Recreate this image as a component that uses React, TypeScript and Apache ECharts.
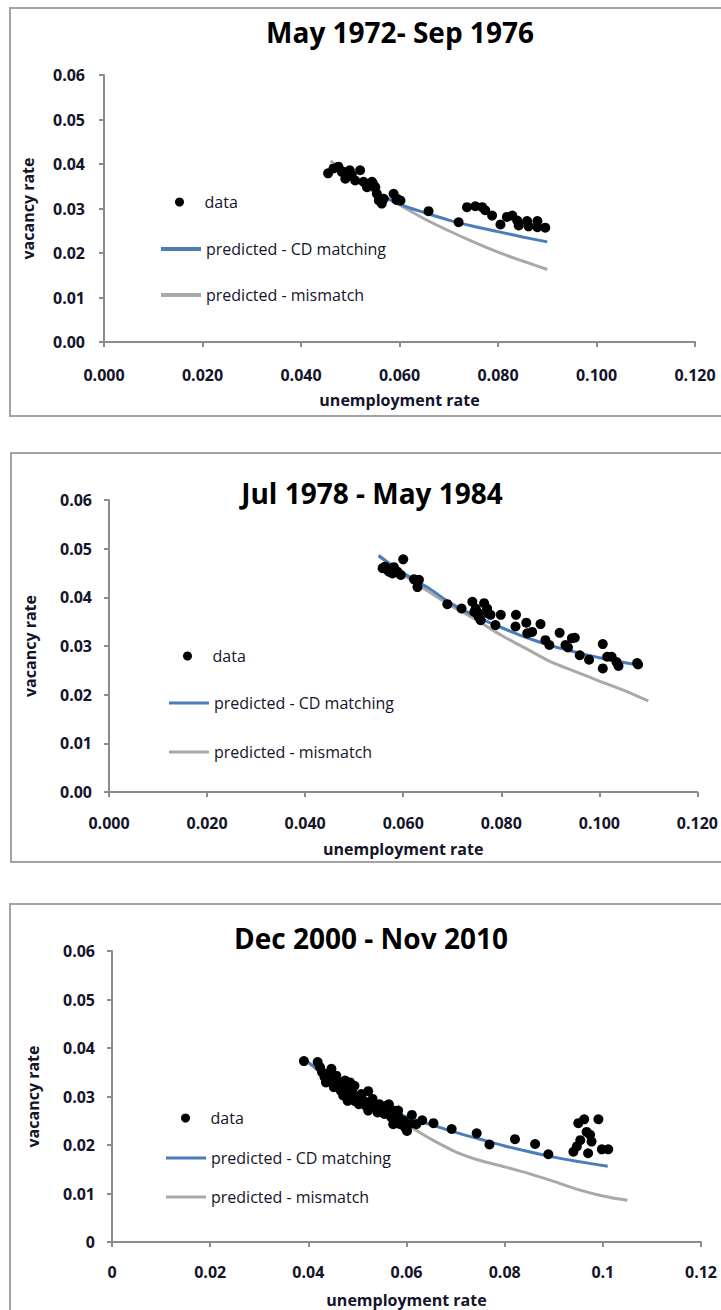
import React, { useEffect, useRef } from "react";
import * as echarts from "echarts";

// ---------- data ----------
const titles = ["May 1972- Sep 1976", "Jul 1978 - May 1984", "Dec 2000 - Nov 2010"];

const p1Data: number[][] = [
  [0.0455, 0.0379], [0.0466, 0.039], [0.0476, 0.0394], [0.0483, 0.0382], [0.049, 0.0367],
  [0.0497, 0.0382], [0.0503, 0.0375], [0.051, 0.0363], [0.052, 0.0386], [0.0527, 0.036],
  [0.0534, 0.0348], [0.0544, 0.036], [0.0551, 0.0348], [0.0554, 0.0333], [0.0558, 0.0318],
  [0.0564, 0.0311], [0.0568, 0.0322], [0.0588, 0.0333], [0.0595, 0.0322], [0.0602, 0.0318],
  [0.0485, 0.0383], [0.0499, 0.0386], [0.0546, 0.0356], [0.0594, 0.0319],
  [0.0659, 0.0294], [0.072, 0.0269], [0.0737, 0.0303], [0.0754, 0.0305], [0.0768, 0.0303],
  [0.0774, 0.0296], [0.0788, 0.0284], [0.0805, 0.0264], [0.0818, 0.0281], [0.0829, 0.0284],
  [0.0839, 0.0273], [0.0842, 0.0262], [0.0859, 0.0272], [0.0862, 0.026], [0.088, 0.0272],
  [0.088, 0.0258], [0.0896, 0.0257]
];
const p1CD: number[][] = [
  [0.046, 0.0398], [0.05, 0.037], [0.055, 0.0337], [0.06, 0.031], [0.065, 0.0291],
  [0.07, 0.0274], [0.075, 0.026], [0.08, 0.0248], [0.085, 0.0236], [0.09, 0.0225]
];
const p1Mis: number[][] = [
  [0.046, 0.0407], [0.05, 0.0375], [0.055, 0.034], [0.06, 0.0308], [0.065, 0.0277],
  [0.07, 0.025], [0.075, 0.0225], [0.08, 0.0202], [0.085, 0.0182], [0.09, 0.0163]
];

const p2Data: number[][] = [
  [0.0558, 0.046], [0.0568, 0.0456], [0.0578, 0.0449], [0.0588, 0.0453], [0.0595, 0.0446],
  [0.06, 0.0478], [0.0581, 0.0462], [0.0563, 0.0463], [0.0572, 0.0452], [0.0622, 0.0437],
  [0.0632, 0.0436], [0.0629, 0.0421], [0.069, 0.0386], [0.0719, 0.0377], [0.0741, 0.0391],
  [0.0748, 0.0377], [0.0754, 0.0367], [0.0758, 0.0353], [0.0765, 0.0388], [0.0771, 0.0377],
  [0.0778, 0.0364], [0.0788, 0.0343], [0.0799, 0.0364], [0.083, 0.0364], [0.0829, 0.034],
  [0.0851, 0.0348], [0.0853, 0.0326], [0.0863, 0.0329], [0.088, 0.0345], [0.089, 0.0312],
  [0.0898, 0.0302], [0.0919, 0.0327], [0.0931, 0.0302], [0.0944, 0.0316], [0.095, 0.0317],
  [0.0936, 0.0297], [0.096, 0.0281], [0.0979, 0.0272], [0.1007, 0.0304], [0.1007, 0.0254],
  [0.1016, 0.0278], [0.1025, 0.0278], [0.1035, 0.0267], [0.1039, 0.0259], [0.1077, 0.0265],
  [0.1079, 0.0262], [0.0745, 0.037], [0.0773, 0.0367], [0.0754, 0.036]
];
const p2CD: number[][] = [
  [0.055, 0.0485], [0.06, 0.045], [0.065, 0.042], [0.07, 0.0386], [0.075, 0.036],
  [0.08, 0.0338], [0.085, 0.0318], [0.09, 0.0301], [0.095, 0.0288], [0.1, 0.0276],
  [0.105, 0.0266], [0.108, 0.0261]
];
const p2Mis: number[][] = [
  [0.055, 0.0487], [0.06, 0.0447], [0.065, 0.0413], [0.07, 0.0381], [0.075, 0.0353],
  [0.08, 0.0322], [0.085, 0.0295], [0.09, 0.0268], [0.095, 0.0248], [0.1, 0.0228],
  [0.105, 0.0209], [0.11, 0.0187]
];

const p3Data: number[][] = [
  [0.0391, 0.0373], [0.0419, 0.0371], [0.0424, 0.036], [0.0428, 0.035], [0.0433, 0.034],
  [0.0436, 0.0329], [0.0442, 0.0347], [0.0447, 0.0333], [0.0452, 0.0319], [0.0457, 0.0343],
  [0.0461, 0.0329], [0.0466, 0.0312], [0.0471, 0.0302], [0.0475, 0.0319], [0.048, 0.0291],
  [0.0485, 0.0329], [0.0489, 0.0312], [0.0494, 0.0322], [0.0499, 0.0298], [0.0503, 0.0284],
  [0.0508, 0.0305], [0.0522, 0.0311], [0.0513, 0.0291], [0.0527, 0.0284], [0.0531, 0.0295],
  [0.0536, 0.0278], [0.0541, 0.0267], [0.0545, 0.0284], [0.055, 0.0274], [0.0555, 0.0264],
  [0.0559, 0.0281], [0.0564, 0.0267], [0.0569, 0.0257], [0.0573, 0.0271], [0.0578, 0.025],
  [0.0583, 0.026], [0.0587, 0.0243], [0.0592, 0.025], [0.0597, 0.0236], [0.0601, 0.0229],
  [0.0606, 0.0243], [0.0611, 0.0262], [0.062, 0.0243], [0.0632, 0.0251], [0.0447, 0.0357],
  [0.0475, 0.0333], [0.0485, 0.0305], [0.0494, 0.0291], [0.0517, 0.0281], [0.0522, 0.0271],
  [0.0564, 0.0284], [0.0573, 0.0243], [0.0595, 0.025], [0.0583, 0.0271],
  [0.0655, 0.0245], [0.0692, 0.0233], [0.0743, 0.0224], [0.0769, 0.0201], [0.0821, 0.0212],
  [0.0862, 0.0202], [0.0889, 0.0181], [0.094, 0.0186], [0.0947, 0.0197], [0.0954, 0.021],
  [0.095, 0.0245], [0.0962, 0.0253], [0.0967, 0.0227], [0.0977, 0.0207], [0.097, 0.0183],
  [0.0991, 0.0253], [0.0998, 0.0191], [0.1011, 0.0191], [0.0974, 0.0221]
];
const p3CD: number[][] = [
  [0.039, 0.0378], [0.045, 0.0333], [0.05, 0.0302], [0.055, 0.0279], [0.06, 0.0258],
  [0.065, 0.0242], [0.07, 0.0226], [0.075, 0.0212], [0.08, 0.0198], [0.085, 0.0186],
  [0.09, 0.0175], [0.095, 0.0166], [0.101, 0.0156]
];
const p3Mis: number[][] = [
  [0.039, 0.0378], [0.045, 0.033], [0.05, 0.0298], [0.055, 0.027], [0.06, 0.0242],
  [0.065, 0.0212], [0.07, 0.0186], [0.075, 0.0168], [0.08, 0.0155], [0.085, 0.0141],
  [0.09, 0.0125], [0.095, 0.0108], [0.1, 0.0095], [0.105, 0.0086]
];

const panelData = [p1Data, p2Data, p3Data];
const panelCD = [p1CD, p2CD, p3CD];
const panelMis = [p1Mis, p2Mis, p3Mis];

const NAME_DATA = "data";
const NAME_CD = "predicted - CD matching";
const NAME_MIS = "predicted - mismatch";

// ---------- layout ----------
const FONT = '"Open Sans", "Liberation Sans", sans-serif';
const AXIS_COLOR = "#8c8c8c";
const TEXT_COLOR = "#14142a";
const BLUE = "#4a7ebb";
const GREY = "#a9a9a9";

const grids = [
  { left: 104, top: 75, width: 591, height: 267 },
  { left: 109, top: 500, width: 590, height: 292 },
  { left: 112, top: 951, width: 589, height: 291 },
];
const titlePos = [
  { x: 400, y: 32 },
  { x: 372, y: 493 },
  { x: 371, y: 938 },
];
const legendPos = [
  { left: 161, dotLeft: 175, rows: [202, 249, 295], lw: 4 },
  { left: 169, dotLeft: 183, rows: [656, 703, 752], lw: 3 },
  { left: 166, dotLeft: 181, rows: [1118, 1158, 1197], lw: 3 },
];
const borders = [
  { x: 10, y: 8, w: 730, h: 408 },
  { x: 11, y: 453, w: 730, h: 409 },
  { x: 10, y: 904, w: 730, h: 430 },
];
const yLabelMargin = [19, 17, 17];
const xLabelMargin = [25, 23, 22];
const xNameGap = [50, 49, 50];
const yNameGap = [68, 71, 71];

export default function App() {
  const ref = useRef<HTMLDivElement>(null);
  useEffect(() => {
    document.body.style.margin = "0";
    if (!ref.current) return;
    const chart = echarts.init(ref.current, undefined, { renderer: "svg" });

    const xAxis: any[] = [];
    const yAxis: any[] = [];
    const series: any[] = [];
    const legend: any[] = [];
    const graphic: any[] = [];

    const labelStyle = {
      fontFamily: FONT,
      fontSize: 16,
      fontWeight: "bold",
      color: TEXT_COLOR,
    };

    for (let i = 0; i < 3; i++) {
      const third = i === 2;
      xAxis.push({
        gridIndex: i,
        type: "value",
        min: 0,
        max: 0.12,
        interval: 0.02,
        name: "unemployment rate",
        nameLocation: "middle",
        nameGap: xNameGap[i],
        nameTextStyle: { ...labelStyle },
        axisLine: { show: true, lineStyle: { color: AXIS_COLOR, width: 2 } },
        axisTick: { show: true, inside: false, length: 5, lineStyle: { color: AXIS_COLOR, width: 2 } },
        splitLine: { show: false },
        axisLabel: {
          ...labelStyle,
          margin: xLabelMargin[i],
          formatter: (v: number) => (third ? String(+v.toFixed(2)) : v.toFixed(3)),
        },
      });
      yAxis.push({
        gridIndex: i,
        type: "value",
        min: 0,
        max: 0.06,
        interval: 0.01,
        name: "vacancy rate",
        nameLocation: "middle",
        nameGap: yNameGap[i],
        nameTextStyle: { ...labelStyle },
        axisLine: { show: true, lineStyle: { color: AXIS_COLOR, width: 2 } },
        axisTick: { show: true, inside: false, length: 5, lineStyle: { color: AXIS_COLOR, width: 2 } },
        splitLine: { show: false },
        axisLabel: {
          ...labelStyle,
          margin: yLabelMargin[i],
          formatter: (v: number) => (third ? String(+v.toFixed(2)) : v.toFixed(2)),
        },
      });
      series.push({
        name: NAME_MIS,
        type: "line",
        xAxisIndex: i,
        yAxisIndex: i,
        data: panelMis[i],
        symbol: "none",
        smooth: 0.3,
        lineStyle: { color: GREY, width: 3 },
        itemStyle: { color: GREY },
        z: 2,
      });
      series.push({
        name: NAME_CD,
        type: "line",
        xAxisIndex: i,
        yAxisIndex: i,
        data: panelCD[i],
        symbol: "none",
        smooth: 0.3,
        lineStyle: { color: BLUE, width: 3 },
        itemStyle: { color: BLUE },
        z: 3,
      });
      series.push({
        name: NAME_DATA,
        type: "scatter",
        xAxisIndex: i,
        yAxisIndex: i,
        data: panelData[i],
        symbol: "circle",
        symbolSize: 10,
        itemStyle: { color: "#000", opacity: 1 },
        z: 4,
      });

      const lp = legendPos[i];
      const rows = [
        { name: NAME_DATA, icon: "circle", h: 9, left: lp.dotLeft },
        { name: NAME_CD, icon: "rect", h: lp.lw, left: lp.left },
        { name: NAME_MIS, icon: "rect", h: lp.lw, left: lp.left },
      ];
      rows.forEach((r, k) => {
        legend.push({
          data: [{ name: r.name, icon: r.icon }],
          left: r.left,
          top: lp.rows[k] - 8,
          padding: 0,
          itemWidth: 40,
          itemHeight: r.h,
          itemGap: 0,
          selectedMode: false,
          textStyle: { fontFamily: FONT, fontSize: 16, color: TEXT_COLOR },
        });
      });

      graphic.push({
        type: "rect",
        shape: { x: borders[i].x, y: borders[i].y, width: borders[i].w, height: borders[i].h },
        style: { fill: "none", stroke: "#a3a3a3", lineWidth: 2 },
        z: -10,
        silent: true,
      });
      graphic.push({
        type: "text",
        x: titlePos[i].x,
        y: titlePos[i].y,
        style: {
          text: titles[i],
          fontFamily: FONT,
          fontSize: 28,
          fontWeight: "bold",
          fill: "#000",
          align: "center",
          verticalAlign: "middle",
        },
        silent: true,
      });
    }

    chart.setOption({
      animation: false,
      backgroundColor: "#ffffff",
      grid: grids.map((g) => ({ ...g, containLabel: false })),
      xAxis,
      yAxis,
      series,
      legend,
      graphic,
    });
    return () => chart.dispose();
  }, []);
  return <div ref={ref} style={{ width: 721, height: 1310 }} />;
}
